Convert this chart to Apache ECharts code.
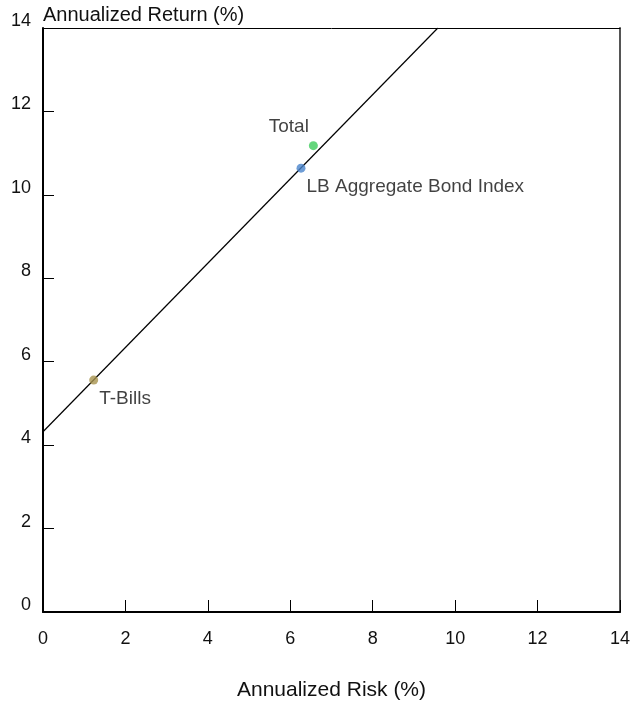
<!DOCTYPE html>
<html>
<head>
<meta charset="utf-8">
<script src="https://cdn.jsdelivr.net/npm/echarts@6/dist/echarts.min.js"></script>
<style>html,body{margin:0;padding:0;background:#fff}#c{width:637px;height:702px}</style>
</head>
<body>
<div id="c"></div>
<script>
// ---- data ----
const assetNames = ['T-Bills', 'LB Aggregate Bond Index', 'Total'];
const assetRisk = [1.23, 6.26, 6.56];
const assetReturn = [5.56, 10.64, 11.18];
const cmlRisk = [0, 9.58];
const cmlReturn = [4.32, 14];
const xTicks = [0, 2, 4, 6, 8, 10, 12, 14];
const yTicks = [0, 2, 4, 6, 8, 10, 12, 14];

// ---- style ----
const FONT = "'Liberation Sans Narrow', 'Arial Narrow', 'Liberation Sans', sans-serif";
const TXT = '#111';
const pointColors = ['#a8934f', '#4a85cc', '#3fcc5c'];
const labelSetups = [
  { position: 'right', distance: 1, offset: [0, 19] },
  { position: 'right', distance: 1, offset: [0, 19] },
  { position: 'left', distance: 0, offset: [0, -19] }
];

const chart = echarts.init(document.getElementById('c'), null, { renderer: 'canvas' });

const scatterData = assetNames.map((n, i) => ({
  name: n,
  value: [assetRisk[i], assetReturn[i]],
  itemStyle: { color: pointColors[i] },
  label: Object.assign({
    show: true,
    formatter: n,
    color: TXT,
    fontSize: 19,
    fontFamily: FONT
  }, labelSetups[i])
}));

chart.setOption({
  animation: false,
  grid: { left: 43, right: 17, top: 28, bottom: 90, containLabel: false, outerBoundsMode: 'none' },
  xAxis: [{
    type: 'value', min: xTicks[0], max: xTicks[xTicks.length - 1], interval: 2,
    position: 'bottom',
    name: 'Annualized Risk (%)', nameLocation: 'middle', nameGap: 68,
    nameTextStyle: { fontSize: 21, color: TXT, fontFamily: FONT },
    axisLine: { show: true, onZero: false, lineStyle: { color: '#000', width: 2 } },
    axisTick: { show: true, inside: true, length: 12, lineStyle: { color: '#000', width: 1 } },
    axisLabel: { margin: 18, fontSize: 18, color: TXT, fontFamily: FONT },
    splitLine: { show: false }
  }, {
    type: 'value', min: 0, max: 14, position: 'top',
    axisLine: { show: true, onZero: false, lineStyle: { color: '#000', width: 1 } },
    axisTick: { show: false }, axisLabel: { show: false }, splitLine: { show: false }
  }],
  yAxis: [{
    type: 'value', min: yTicks[0], max: yTicks[yTicks.length - 1], interval: 2,
    position: 'left',
    name: 'Annualized Return (%)', nameLocation: 'end', nameGap: 3,
    nameTextStyle: { fontSize: 20, color: TXT, fontFamily: FONT, align: 'left', verticalAlign: 'bottom' },
    axisLine: { show: true, onZero: false, lineStyle: { color: '#000', width: 2 } },
    axisTick: { show: true, inside: true, length: 11, lineStyle: { color: '#000', width: 1 } },
    axisLabel: { margin: 12, fontSize: 18, lineHeight: 14, color: TXT, fontFamily: FONT, verticalAlign: 'bottom' },
    splitLine: { show: false }
  }, {
    type: 'value', min: 0, max: 14, position: 'right',
    axisLine: { show: true, onZero: false, lineStyle: { color: '#555', width: 2 } },
    axisTick: { show: false }, axisLabel: { show: false }, splitLine: { show: false }
  }],
  series: [{
    type: 'line',
    data: cmlRisk.map((x, i) => [x, cmlReturn[i]]),
    showSymbol: false, symbol: 'none',
    lineStyle: { color: '#000', width: 1.2 },
    silent: true, z: 2
  }, {
    type: 'scatter',
    symbolSize: 9,
    data: scatterData,
    z: 3
  }]
});
</script>
</body>
</html>
